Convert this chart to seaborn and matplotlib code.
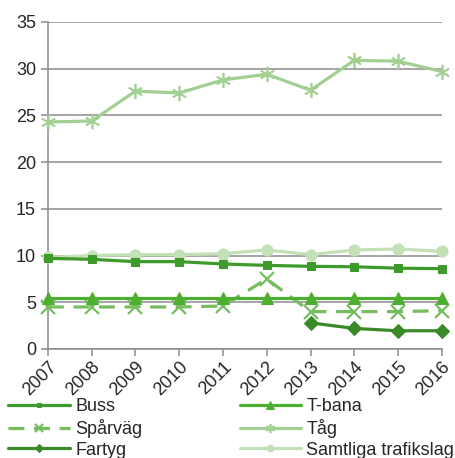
import numpy as np
import pandas as pd
import matplotlib
matplotlib.use('Agg')
import matplotlib.pyplot as plt
import seaborn as sns

years = [2007, 2008, 2009, 2010, 2011, 2012, 2013, 2014, 2015, 2016]
buss = [9.7, 9.6, 9.35, 9.35, 9.1, 8.95, 8.85, 8.8, 8.65, 8.6]
tbana = [5.5, 5.5, 5.5, 5.5, 5.5, 5.5, 5.5, 5.5, 5.5, 5.5]
sparvag = [4.5, 4.5, 4.5, 4.5, 4.6, 7.5, 4.0, 4.0, 4.0, 4.1]
tag = [24.3, 24.4, 27.6, 27.4, 28.8, 29.4, 27.7, 30.9, 30.8, 29.7]
fartyg = [np.nan, np.nan, np.nan, np.nan, np.nan, np.nan, 2.8, 2.2, 1.95, 1.95]
samtliga = [9.8, 10.0, 10.1, 10.1, 10.2, 10.6, 10.1, 10.6, 10.7, 10.45]

df = pd.DataFrame({'År': years, 'Buss': buss, 'T-bana': tbana, 'Spårväg': sparvag,
                   'Tåg': tag, 'Fartyg': fartyg, 'Samtliga trafikslag': samtliga})

sns.set_style('white')
plt.rcParams['font.family'] = ['Liberation Sans', 'DejaVu Sans']

fig = plt.figure(figsize=(4.56, 4.58), dpi=100)
ax = fig.add_axes([0.105, 0.238, 0.864, 0.714])

# stil per serie
styles = {
    'Buss': dict(color='#3e9a2a', marker='s', markersize=6, ls='-'),
    'T-bana': dict(color='#4caf30', marker='^', markersize=9, ls='-'),
    'Spårväg': dict(color='#77bd5f', marker='x', markersize=10, markeredgewidth=1.6, ls=(0, (5, 3))),
    'Tåg': dict(color='#a2cf92', marker=(6, 2, 0), markersize=11, markeredgewidth=1.2, ls='-'),
    'Fartyg': dict(color='#3a8a28', marker='D', markersize=7, ls='-'),
    'Samtliga trafikslag': dict(color='#c4e0b6', marker='o', markersize=8, ls='-'),
}

order = ['Samtliga trafikslag', 'Tåg', 'Spårväg', 'T-bana', 'Buss', 'Fartyg']
for name in order:
    st = styles[name]
    sns.lineplot(x='År', y=name, data=df, ax=ax, label=name, linewidth=2.3,
                 clip_on=False, zorder=3, markeredgecolor=st['color'],
                 markerfacecolor=st['color'], **st)

ax.set_xlim(2007, 2016)
ax.set_ylim(0, 35)
ax.set_yticks(range(0, 36, 5))
ax.set_xticks(years)
ax.set_xticklabels([str(y) for y in years], rotation=45, ha='right', rotation_mode='anchor')
ax.set_xlabel('')
ax.set_ylabel('')
ax.yaxis.grid(True, color='#8c8c8c', linewidth=1.1)
ax.set_axisbelow(True)
for s in ['top', 'right']:
    ax.spines[s].set_visible(False)
for s in ['left', 'bottom']:
    ax.spines[s].set_color('#8c8c8c')
    ax.spines[s].set_linewidth(1.1)
ax.tick_params(axis='both', which='both', length=5, width=1.1, color='#8c8c8c',
               labelsize=13, direction='out', left=True, bottom=True)
ax.tick_params(axis='x', pad=2)

# legend under diagrammet
ax.get_legend().remove()
h, l = ax.get_legend_handles_labels()
lookup = dict(zip(l, h))
leg_order = ['Buss', 'Spårväg', 'Fartyg', 'T-bana', 'Tåg', 'Samtliga trafikslag']
fig.legend([lookup[n] for n in leg_order], leg_order, loc='upper left',
           bbox_to_anchor=(0.018, 0.13), ncol=2, frameon=False, fontsize=13,
           handlelength=3.4, handletextpad=0.3, labelspacing=0.2,
           columnspacing=5.4, borderaxespad=0, borderpad=0, markerscale=0.6)

plt.savefig('out.png', dpi=100)
